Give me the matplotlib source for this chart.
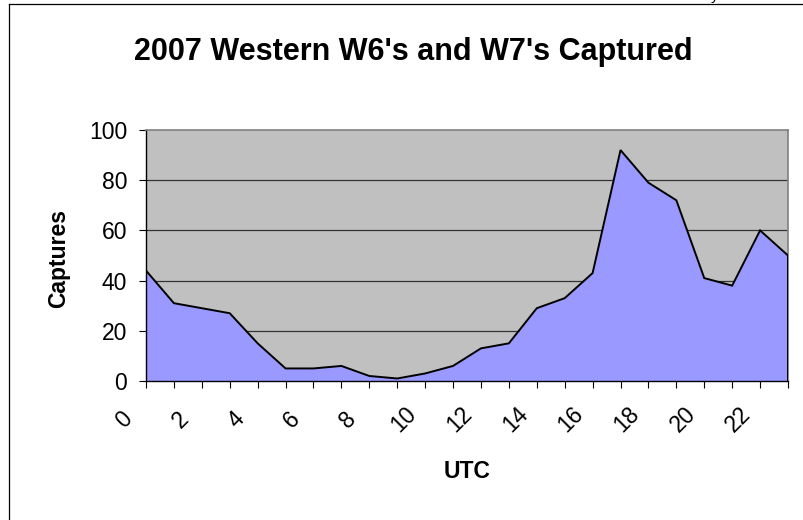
import matplotlib
matplotlib.use('Agg')
import matplotlib.pyplot as plt
from matplotlib.transforms import ScaledTranslation
from matplotlib.lines import Line2D

# ---- data ----
hours = list(range(24))
captures = [44, 31, 29, 27, 15, 5, 5, 6, 2, 1, 3, 6,
            13, 15, 29, 33, 43, 92, 79, 72, 41, 38, 60, 50]
xtick_positions = list(range(0, 24, 2))
xtick_labels = [str(h) for h in xtick_positions]
yticks = [0, 20, 40, 60, 80, 100]
title = "2007 Western W6's and W7's Captured"
xlabel = "UTC"
ylabel = "Captures"

plt.rcParams['font.family'] = ['Liberation Sans', 'DejaVu Sans']
W, H = 804, 520
fig = plt.figure(figsize=(W / 100, H / 100), dpi=100)
fig.patch.set_facecolor('white')

ax = fig.add_axes([146 / W, 1 - 381 / H, 642 / W, 251 / H])
ax.set_facecolor('#C0C0C0')
ax.fill_between(hours, captures, 0, color='#9999FF', lw=0, zorder=2)
ax.plot(hours, captures, color='black', lw=1.4, zorder=3, solid_joinstyle='miter')
ax.plot([hours[-1], hours[-1]], [0, captures[-1]], color='black', lw=1.4, zorder=3)
ax.set_xlim(0, 23)
ax.set_ylim(0, 100)
for y in yticks[1:-1]:
    ax.axhline(y, color='#333333', lw=0.9, zorder=1)

ax.set_yticks(yticks)
ax.set_yticklabels([str(v) for v in yticks], fontsize=16.5)
ax.set_xticks(xtick_positions)
ax.set_xticks([h for h in hours if h not in xtick_positions], minor=True)
ax.set_xticklabels(xtick_labels, fontsize=16.5, rotation=45, ha='center', va='center',
                   rotation_mode='anchor')
ax.tick_params(axis='x', which='both', direction='out', length=5, width=0.8,
               color='black', pad=0)
ax.tick_params(axis='y', which='both', direction='out', length=5, width=0.8,
               color='black', pad=8.6)
off = ScaledTranslation(-21.5 / 100, -31.5 / 100, fig.dpi_scale_trans)
for lab in ax.get_xticklabels():
    lab.set_transform(lab.get_transform() + off)

for s in ('top', 'right'):
    ax.spines[s].set_color('#808080')
    ax.spines[s].set_linewidth(1.2)
for s in ('left', 'bottom'):
    ax.spines[s].set_color('black')
    ax.spines[s].set_linewidth(1.0)

fig.text(413 / W, 1 - 60 / H, title, ha='center', va='baseline',
         fontsize=22, fontweight='bold')
fig.text(467 / W, 1 - 478 / H, xlabel, ha='center', va='baseline',
         fontsize=16.5, fontweight='bold')
fig.text(59 / W, 1 - 259 / H, ylabel, ha='center', va='center', rotation=90,
         fontsize=16.5, fontweight='bold')
fig.text(715 / W, 1.0, 'y', ha='center', va='baseline', fontsize=11)

# chart-area border (left and top edges visible)
fig.add_artist(Line2D([8.5 / W, 8.5 / W], [0, 1 - 3.5 / H], transform=fig.transFigure,
                      color='black', lw=0.9))
fig.add_artist(Line2D([8.5 / W, 1], [1 - 3.5 / H, 1 - 3.5 / H], transform=fig.transFigure,
                      color='black', lw=0.9))

fig.savefig('out.png', dpi=100)
